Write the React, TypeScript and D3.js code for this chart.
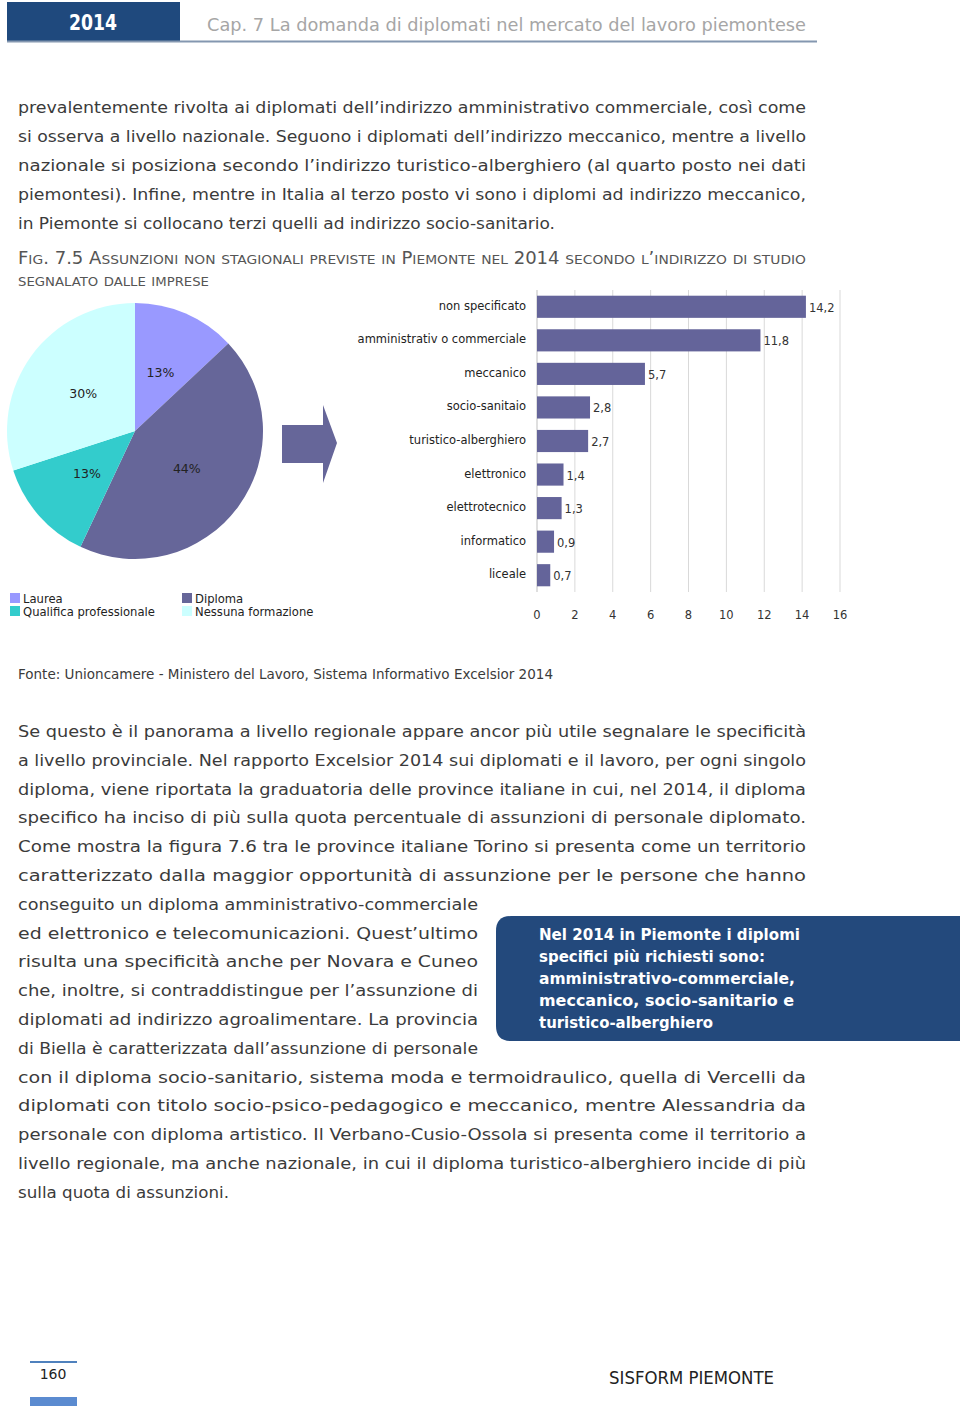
import React from "react";
import * as d3 from "d3";

// ---- Data ----
const barCategories = [
  "non specificato",
  "amministrativ o commerciale",
  "meccanico",
  "socio-sanitaio",
  "turistico-alberghiero",
  "elettronico",
  "elettrotecnico",
  "informatico",
  "liceale",
];
const barValues = [14.2, 11.8, 5.7, 2.8, 2.7, 1.4, 1.3, 0.9, 0.7];
const barTicks = [0, 2, 4, 6, 8, 10, 12, 14, 16];

const pieCategories = ["Laurea", "Diploma", "Qualifica professionale", "Nessuna formazione"];
const pieValues = [13, 44, 13, 30];
const pieColors = ["#9999ff", "#666699", "#33cccc", "#ccffff"];

const para1 = [
  "prevalentemente rivolta ai diplomati dell’indirizzo amministrativo commerciale, così come",
  "si osserva a livello nazionale. Seguono i diplomati dell’indirizzo meccanico, mentre a livello",
  "nazionale si posiziona secondo l’indirizzo turistico-alberghiero (al quarto posto nei dati",
  "piemontesi). Infine, mentre in Italia al terzo posto vi sono i diplomi ad indirizzo meccanico,",
  "in Piemonte si collocano terzi quelli ad indirizzo socio-sanitario.",
];
const para1Ends = [806, 806, 806, 806, 555];

const para2 = [
  "Se questo è il panorama a livello regionale appare ancor più utile segnalare le specificità",
  "a livello provinciale. Nel rapporto Excelsior 2014 sui diplomati e il lavoro, per ogni singolo",
  "diploma, viene riportata la graduatoria delle province italiane in cui, nel 2014, il diploma",
  "specifico ha inciso di più sulla quota percentuale di assunzioni di personale diplomato.",
  "Come mostra la figura 7.6 tra le province italiane Torino si presenta come un territorio",
  "caratterizzato dalla maggior opportunità di assunzione per le persone che hanno",
  "conseguito un diploma amministrativo-commerciale",
  "ed elettronico e telecomunicazioni. Quest’ultimo",
  "risulta una specificità anche per Novara e Cuneo",
  "che, inoltre, si contraddistingue per l’assunzione di",
  "diplomati ad indirizzo agroalimentare. La provincia",
  "di Biella è caratterizzata dall’assunzione di personale",
  "con il diploma socio-sanitario, sistema moda e termoidraulico, quella di Vercelli da",
  "diplomati con titolo socio-psico-pedagogico e meccanico, mentre Alessandria da",
  "personale con diploma artistico. Il Verbano-Cusio-Ossola si presenta come il territorio a",
  "livello regionale, ma anche nazionale, in cui il diploma turistico-alberghiero incide di più",
  "sulla quota di assunzioni.",
];
const para2Ends = [806, 806, 806, 806, 806, 806, 478, 478, 478, 478, 478, 478, 806, 806, 806, 806, 229];

const calloutLines = [
  "Nel 2014 in Piemonte i diplomi",
  "specifici più richiesti sono:",
  "amministrativo-commerciale,",
  "meccanico, socio-sanitario e",
  "turistico-alberghiero",
];

const captionLine1 = "Fig. 7.5 Assunzioni non stagionali previste in Piemonte nel 2014 secondo l’indirizzo di studio";
const captionLine2 = "segnalato dalle imprese";

const FONT = "'DejaVu Sans', 'Liberation Sans', sans-serif";
const TEXT = "#3b3b3b";

function JLine({ x, end, y, text, size = 16, color = TEXT, weight = "normal" }: any) {
  return (
    <text
      x={x}
      y={y}
      fontSize={size}
      fill={color}
      fontWeight={weight}
      fontFamily={FONT}
      textLength={end - x}
      lengthAdjust="spacingAndGlyphs"
    >
      {text}
    </text>
  );
}

function SmallCaps({ x, y, end, text, big = 17, small = 13 }: any) {
  const parts: { s: string; small: boolean }[] = [];
  for (const ch of text) {
    const isSmall = ch !== ch.toUpperCase();
    const last = parts[parts.length - 1];
    if (last && last.small === isSmall) last.s += ch;
    else parts.push({ s: ch, small: isSmall });
  }
  return (
    <text x={x} y={y} fill="#555" fontFamily={FONT} textLength={end - x} lengthAdjust="spacingAndGlyphs">
      {parts.map((p, i) => (
        <tspan key={i} fontSize={p.small ? small : big}>
          {p.small ? p.s.toUpperCase() : p.s}
        </tspan>
      ))}
    </text>
  );
}

export default function App() {
  // Bar chart scales
  const x = d3.scaleLinear().domain([0, 16]).range([537, 840]);
  const y = d3.scaleBand<string>().domain(barCategories).range([290, 592]).paddingInner(0.34).paddingOuter(0.17);

  // Pie
  const cx = 135,
    cy = 431,
    R = 128;
  const pie = d3
    .pie<number>()
    .sort(null)
    .startAngle(0)
    .endAngle(2 * Math.PI)(pieValues);
  const arc = d3.arc<d3.PieArcDatum<number>>().innerRadius(0).outerRadius(R);
  const labelArc = d3.arc<d3.PieArcDatum<number>>().innerRadius(64).outerRadius(64);

  const calloutEnds = [800, 765, 795, 794, 713];

  return (
    <svg
      width={960}
      height={1409}
      style={{ position: "absolute", left: 0, top: 0, background: "#fff" }}
      fontFamily={FONT}
    >
      {/* Header */}
      <rect x={7} y={2} width={173} height={39} fill="#1f497d" />
      <text x={93} y={30} textAnchor="middle" fill="#fff" fontSize={21} fontWeight="bold" fontFamily={FONT} textLength={48} lengthAdjust="spacingAndGlyphs">
        2014
      </text>
      <JLine x={207} end={806} y={31} size={18} color="#a6a6a6" text="Cap. 7 La domanda di diplomati nel mercato del lavoro piemontese" />
      <line x1={7} x2={817} y1={41.5} y2={41.5} stroke="#8497b0" strokeWidth={2} />

      {/* Paragraph 1 */}
      {para1.map((t, i) => (
        <JLine key={i} x={18} end={para1Ends[i]} y={113 + i * 29} text={t} />
      ))}

      {/* Caption */}
      <SmallCaps x={18} end={806} y={264} text={captionLine1} />
      <SmallCaps x={18} end={209} y={286} text={captionLine2} />

      {/* Pie */}
      <g transform={`translate(${cx},${cy})`}>
        {pie.map((d, i) => (
          <path key={i} d={arc(d) as string} fill={pieColors[i]} />
        ))}
        {pie.map((d, i) => {
          const [lx, ly] = labelArc.centroid(d);
          return (
            <text key={i} x={lx} y={ly} dy="0.35em" textAnchor="middle" fontSize={12.5} fill="#222">
              {pieValues[i]}%
            </text>
          );
        })}
      </g>

      {/* Arrow */}
      <path d="M282,425 L323,425 L323,405 L337,443 L323,483 L323,463 L282,463 Z" fill="#666699" />

      {/* Legend */}
      {pieCategories.map((c, i) => {
        const lx = i % 2 === 0 ? 10 : 182;
        const ly = i < 2 ? 593 : 606;
        return (
          <g key={c}>
            <rect x={lx} y={ly} width={10} height={10} fill={pieColors[i]} />
            <text x={lx + 13} y={ly + 9.5} fontSize={11.6} fill="#222">
              {c}
            </text>
          </g>
        );
      })}

      {/* Bar chart gridlines */}
      {barTicks.map((t) => (
        <line key={t} x1={x(t)} x2={x(t)} y1={290} y2={592} stroke={t === 0 ? "#bfbfbf" : "#d9d9d9"} strokeWidth={1} />
      ))}
      {barTicks.map((t) => (
        <text key={t} x={x(t)} y={619} textAnchor="middle" fontSize={11.5} fill="#333">
          {t}
        </text>
      ))}
      {barCategories.map((c, i) => {
        const yc = (y(c) as number) + y.bandwidth() / 2;
        return (
          <g key={c}>
            <rect x={x(0)} y={y(c)} width={x(barValues[i]) - x(0)} height={y.bandwidth()} fill="#64649a" />
            <text x={526} y={yc - 1} dy="0.35em" textAnchor="end" fontSize={11.5} fill="#222">
              {c}
            </text>
            <text x={x(barValues[i]) + 3} y={yc + 1} dy="0.35em" fontSize={11.5} fill="#333">
              {String(barValues[i]).replace(".", ",")}
            </text>
          </g>
        );
      })}

      {/* Source */}
      <JLine x={18} end={553} y={679} size={14} text="Fonte: Unioncamere - Ministero del Lavoro, Sistema Informativo Excelsior 2014" />

      {/* Paragraph 2 */}
      {para2.map((t, i) => (
        <JLine key={i} x={18} end={para2Ends[i]} y={737 + i * 28.8} text={t} />
      ))}

      {/* Callout */}
      <path d="M511,916 L960,916 L960,1041 L511,1041 Q496,1041 496,1026 L496,931 Q496,916 511,916 Z" fill="#23497c" />
      {calloutLines.map((t, i) => (
        <JLine key={i} x={539} end={calloutEnds[i]} y={940 + i * 22} size={16} weight="bold" color="#fff" text={t} />
      ))}

      {/* Footer */}
      <line x1={30} x2={77} y1={1362} y2={1362} stroke="#4f81bd" strokeWidth={2} />
      <text x={53} y={1379} textAnchor="middle" fontSize={14} fill="#222">
        160
      </text>
      <rect x={30} y={1397} width={47} height={9} fill="#5b8bd0" />
      <JLine x={609} end={774} y={1384} size={17} color="#222" text="SISFORM PIEMONTE" />
    </svg>
  );
}
